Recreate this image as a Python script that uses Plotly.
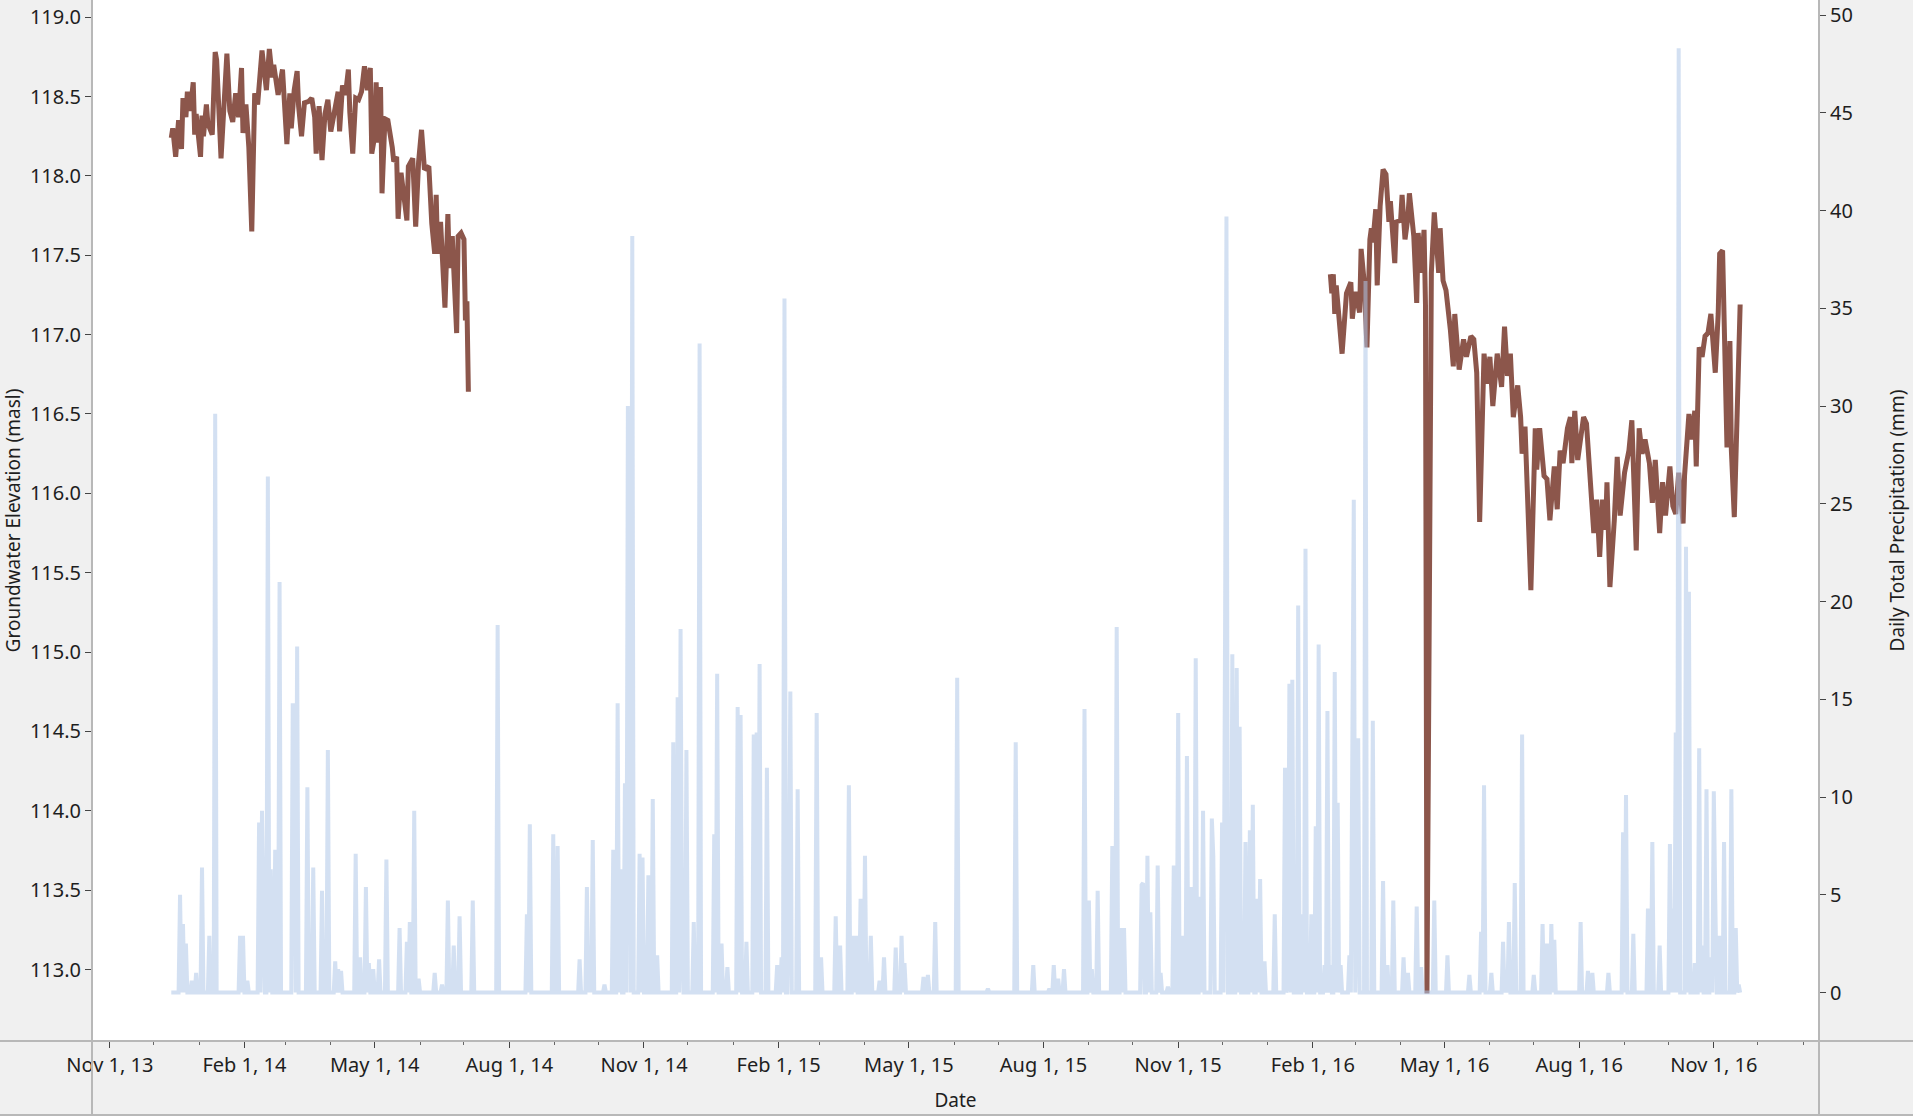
import numpy as np
import pandas as pd
import plotly.graph_objects as go

# day numbers are counted from 1 Nov 2013
START = pd.Timestamp("2013-11-01")

# groundwater elevation (masl), first logging period
gw1_day = [42, 43, 45, 47, 49, 50, 52, 53, 55, 57, 58, 59, 62, 63, 64, 66, 67, 70, 72, 73,
           76, 78, 80, 82, 84, 86, 88, 90, 91, 93, 95, 97, 99, 101, 104, 107, 109, 111, 112, 115,
           118, 121, 123, 124, 126, 128, 129, 131, 133, 136, 138, 140, 141, 143, 145, 147, 149, 151, 153, 154,
           156, 157, 159, 161, 163, 164, 166, 168, 170, 172, 174, 176, 178, 179, 181, 182, 183, 185, 186, 188,
           190, 193, 194, 196, 197, 199, 201, 203, 204, 207, 209, 211, 213, 215, 218, 220, 222, 223, 224, 226,
           229, 231, 232, 234, 237, 238, 240, 242, 243, 244, 245]
gw1_masl = [118.24, 118.30, 118.12, 118.35, 118.17, 118.49, 118.37, 118.53, 118.41, 118.59, 118.26, 118.39, 118.12, 118.38, 118.25, 118.45, 118.33, 118.26, 118.78, 118.73,
            118.11, 118.42, 118.77, 118.41, 118.34, 118.52, 118.37, 118.68, 118.27, 118.45, 118.18, 117.65, 118.52, 118.45, 118.79, 118.54, 118.80, 118.62, 118.70, 118.51,
            118.67, 118.20, 118.52, 118.30, 118.54, 118.66, 118.44, 118.25, 118.46, 118.47, 118.49, 118.37, 118.14, 118.44, 118.10, 118.39, 118.48, 118.28, 118.38, 118.39,
            118.53, 118.28, 118.57, 118.51, 118.67, 118.40, 118.14, 118.49, 118.48, 118.53, 118.69, 118.54, 118.68, 118.14, 118.25, 118.59, 118.21, 118.56, 117.89, 118.36,
            118.35, 118.18, 118.09, 118.12, 117.73, 118.02, 117.84, 117.72, 118.06, 118.11, 117.68, 118.09, 118.29, 118.04, 118.06, 117.70, 117.51, 117.88, 117.51, 117.71,
            117.17, 117.76, 117.42, 117.62, 117.01, 117.62, 117.64, 117.60, 117.09, 117.21, 116.64]

# groundwater elevation (masl), second logging period
gw2_day = [834, 835, 836, 837, 838, 840, 842, 845, 848, 849, 851, 854, 855, 857, 859, 861, 862, 863, 865, 866,
           868, 870, 872, 874, 875, 878, 879, 882, 883, 885, 887, 888, 891, 893, 894, 896, 898, 899, 900, 903,
           905, 908, 909, 911, 913, 916, 918, 919, 922, 925, 927, 930, 932, 934, 936, 939, 941, 943, 945, 948,
           951, 953, 955, 957, 959, 962, 964, 965, 967, 969, 971, 974, 975, 977, 980, 982, 984, 987, 989, 991,
           993, 996, 998, 999, 1001, 1003, 1005, 1007, 1009, 1011, 1012, 1014, 1016, 1018, 1020, 1022, 1023, 1025, 1028, 1030,
           1032, 1035, 1038, 1040, 1043, 1045, 1047, 1049, 1052, 1054, 1056, 1059, 1061, 1063, 1066, 1068, 1070, 1072, 1075, 1076,
           1079, 1081, 1083, 1084, 1086, 1088, 1090, 1092, 1094, 1095, 1097, 1099, 1100, 1102, 1104, 1105, 1107, 1108, 1110, 1112,
           1114]
gw2_masl = [117.38, 117.26, 117.38, 117.13, 117.31, 117.13, 116.88, 117.26, 117.33, 117.10, 117.27, 117.14, 117.54, 117.34, 116.92, 117.60, 117.67, 117.58, 117.79, 117.31,
            117.81, 118.04, 118.01, 117.71, 117.84, 117.45, 117.71, 117.72, 117.88, 117.60, 117.74, 117.89, 117.62, 117.20, 117.64, 117.39, 117.66, 117.18, 112.85, 117.39,
            117.77, 117.39, 117.67, 117.34, 117.28, 117.03, 116.80, 117.13, 116.78, 116.97, 116.86, 116.99, 116.97, 116.76, 115.82, 116.88, 116.69, 116.86, 116.55, 116.88,
            116.67, 117.05, 116.74, 116.88, 116.48, 116.68, 116.48, 116.25, 116.42, 115.91, 115.39, 116.41, 116.15, 116.41, 116.11, 116.09, 115.83, 116.17, 115.90, 116.27,
            116.19, 116.41, 116.48, 116.19, 116.52, 116.21, 116.34, 116.48, 116.44, 116.13, 116.00, 115.75, 115.96, 115.60, 115.96, 115.77, 116.07, 115.41, 115.83, 116.23,
            115.86, 116.13, 116.27, 116.46, 115.64, 116.41, 116.25, 116.34, 116.19, 115.94, 116.21, 115.75, 116.07, 115.86, 116.17, 115.92, 115.87, 116.13, 115.81, 116.11,
            116.50, 116.34, 116.52, 116.17, 116.92, 116.86, 116.99, 117.01, 117.13, 117.01, 116.76, 117.13, 117.51, 117.53, 116.76, 116.29, 116.96, 116.27, 115.85, 116.59,
            117.19]

# daily total precipitation: days with rain and amount (mm); all other days read as 0
rain_first_day, rain_last_day = 42, 1114
rain_day = [48, 50, 52, 56, 59, 63, 68, 72, 89, 91, 94, 102, 104, 105, 108, 110, 113, 116, 125, 126,
            128, 135, 139, 145, 149, 154, 156, 158, 168, 171, 175, 177, 180, 184, 189, 198, 203, 205, 208, 211,
            222, 227, 231, 235, 239, 248, 265, 285, 287, 303, 306, 321, 326, 328, 330, 338, 344, 347, 349, 352,
            354, 355, 357, 362, 364, 368, 371, 374, 385, 388, 390, 391, 394, 399, 403, 413, 415, 418, 422, 429,
            431, 435, 440, 442, 444, 449, 456, 459, 461, 464, 465, 470, 483, 486, 496, 499, 505, 508, 510, 513,
            516, 520, 526, 529, 537, 541, 543, 556, 559, 564, 579, 600, 619, 631, 642, 645, 648, 652, 666, 669,
            671, 675, 685, 688, 691, 693, 705, 706, 709, 711, 716, 718, 723, 727, 730, 733, 736, 739, 742, 745,
            747, 753, 754, 760, 762, 763, 767, 770, 772, 776, 779, 781, 784, 786, 789, 796, 803, 805, 806, 808,
            812, 815, 817, 821, 824, 826, 830, 832, 834, 837, 839, 841, 847, 849, 850, 852, 853, 858, 863, 870,
            873, 877, 884, 887, 893, 896, 905, 914, 929, 937, 939, 944, 952, 954, 956, 960, 965, 973, 979, 982,
            985, 987, 1005, 1010, 1013, 1024, 1034, 1036, 1041, 1051, 1054, 1059, 1066, 1068, 1070, 1072, 1077, 1079, 1083, 1086,
            1088, 1091, 1094, 1096, 1097, 1100, 1103, 1108, 1111, 1113]
rain_mm = [5.0, 3.5, 2.5, 0.6, 1.0, 6.4, 2.9, 29.6, 2.9, 2.9, 0.6, 8.7, 9.3, 2.9, 26.4, 6.3, 7.3, 21.0, 14.7, 14.7,
           17.7, 10.5, 6.4, 5.2, 12.4, 1.6, 1.2, 1.1, 7.1, 1.8, 5.4, 1.5, 1.2, 1.7, 6.8, 3.3, 2.6, 3.6, 9.3, 0.7,
           1.0, 0.4, 4.7, 2.4, 3.9, 4.7, 18.8, 4.0, 8.6, 8.1, 7.5, 1.7, 5.4, 1.9, 7.8, 0.4, 7.3, 14.8, 6.3, 10.7,
           30.0, 8.8, 38.7, 7.1, 6.9, 6.0, 9.9, 1.9, 12.8, 15.1, 18.6, 2.7, 12.4, 3.6, 33.2, 8.1, 16.3, 2.5, 1.3, 14.6,
           14.2, 2.6, 13.2, 13.3, 16.8, 11.5, 1.4, 1.8, 35.5, 4.5, 15.4, 10.4, 14.3, 1.8, 3.9, 2.4, 10.6, 2.9, 2.9, 4.8,
           7.0, 2.9, 0.6, 1.8, 2.3, 2.9, 1.5, 0.8, 0.9, 3.6, 16.1, 0.2, 12.8, 1.4, 0.2, 1.4, 0.7, 1.2, 14.5, 4.7,
           1.2, 5.2, 7.5, 18.7, 3.3, 3.3, 5.5, 5.6, 7.0, 4.1, 6.5, 1.0, 0.3, 6.5, 14.3, 2.9, 12.1, 5.4, 17.1, 4.9,
           9.3, 8.9, 7.0, 8.7, 17.7, 39.7, 17.3, 16.6, 13.6, 7.7, 8.3, 9.6, 4.8, 5.8, 1.6, 4.0, 11.5, 0.4, 15.8, 16.0,
           19.8, 4.0, 22.7, 4.0, 8.5, 17.8, 1.4, 14.4, 1.4, 16.4, 9.7, 1.4, 1.9, 12.5, 25.2, 4.2, 13.0, 36.4, 13.9, 5.7,
           1.4, 4.7, 1.8, 1.0, 4.4, 1.3, 4.7, 1.9, 0.9, 3.1, 10.6, 1.0, 2.6, 0.6, 3.6, 5.6, 13.2, 0.9, 3.5, 2.5,
           3.5, 2.7, 3.6, 1.1, 1.0, 1.0, 8.2, 10.1, 3.0, 4.3, 7.7, 2.4, 7.6, 4.3, 13.3, 48.3, 22.8, 20.5, 1.5, 12.5,
           2.4, 10.4, 1.8, 10.3, 4.7, 2.9, 7.7, 10.4, 3.3, 0.4]


def to_dates(days):
    return START + pd.to_timedelta(np.asarray(days), unit="D")


# put the rain days onto the daily record
rain_all = pd.Series(0.0, index=np.arange(rain_first_day, rain_last_day + 1))
rain_all.loc[rain_day] = rain_mm

BROWN = "#8c564b"
PALE = "rgba(174,199,232,0.55)"
AXIS_GREY = "#b8b8b8"

fig = go.Figure()
fig.add_trace(go.Scatter(x=to_dates(gw1_day), y=gw1_masl, mode="lines",
                         line=dict(color=BROWN, width=5), yaxis="y"))
fig.add_trace(go.Scatter(x=to_dates(gw2_day), y=gw2_masl, mode="lines",
                         line=dict(color=BROWN, width=5), yaxis="y"))
fig.add_trace(go.Scatter(x=to_dates(rain_all.index), y=rain_all.values, mode="lines",
                         line=dict(color=PALE, width=4), yaxis="y2"))

tickfont = dict(family="Noto Sans, Open Sans, sans-serif", size=20, color="#1e1e1e")
titlefont = dict(family="Noto Sans, Open Sans, sans-serif", size=19, color="#1e1e1e")

fig.update_layout(
    width=1913, height=1116,
    margin=dict(l=92, r=94, t=0, b=75),
    paper_bgcolor="#f0f0f0", plot_bgcolor="white",
    showlegend=False,
    font=tickfont,
    xaxis=dict(type="date", range=["2013-10-19 20:00", "2017-01-11 21:00"],
               tick0="2013-11-01", dtick="M3", tickformat="%b %-d, %y",
               ticks="outside", ticklen=6, tickcolor="#444", tickfont=tickfont,
               showgrid=False, zeroline=False, showline=False,
               minor=dict(dtick="M1", tick0="2013-11-01", ticks="outside", ticklen=3,
                          tickcolor="#666", showgrid=False),
               title=dict(text="Date", font=titlefont, standoff=16)),
    yaxis=dict(range=[112.55, 119.108], tick0=113, dtick=0.5, tickformat=".1f",
               ticks="outside", ticklen=6, tickcolor="#444", tickfont=tickfont,
               showgrid=False, zeroline=False, showline=False,
               title=dict(text="Groundwater Elevation (masl)", font=titlefont, standoff=4)),
    yaxis2=dict(range=[-2.48, 50.77], tick0=0, dtick=5, overlaying="y", side="right",
                ticks="outside", ticklen=6, tickcolor="#444", tickfont=tickfont,
                showgrid=False, zeroline=False, showline=False,
                title=dict(text="Daily Total Precipitation (mm)", font=titlefont, standoff=38)),
)

# frame lines of the plot panel, running out into the margins
frame = [
    dict(x0=-0.06, x1=1.06, y0=0, y1=0),
    dict(x0=0, x1=0, y0=-0.08, y1=1),
    dict(x0=1, x1=1, y0=-0.08, y1=1),
    dict(x0=-0.06, x1=1.06, y0=-0.0711, y1=-0.0711),
]
for f in frame:
    fig.add_shape(type="line", xref="paper", yref="paper", layer="above",
                  line=dict(color=AXIS_GREY, width=2), **f)

fig.write_html("out.html", config={"displayModeBar": False},
               post_script="document.body.style.margin='0px';")
